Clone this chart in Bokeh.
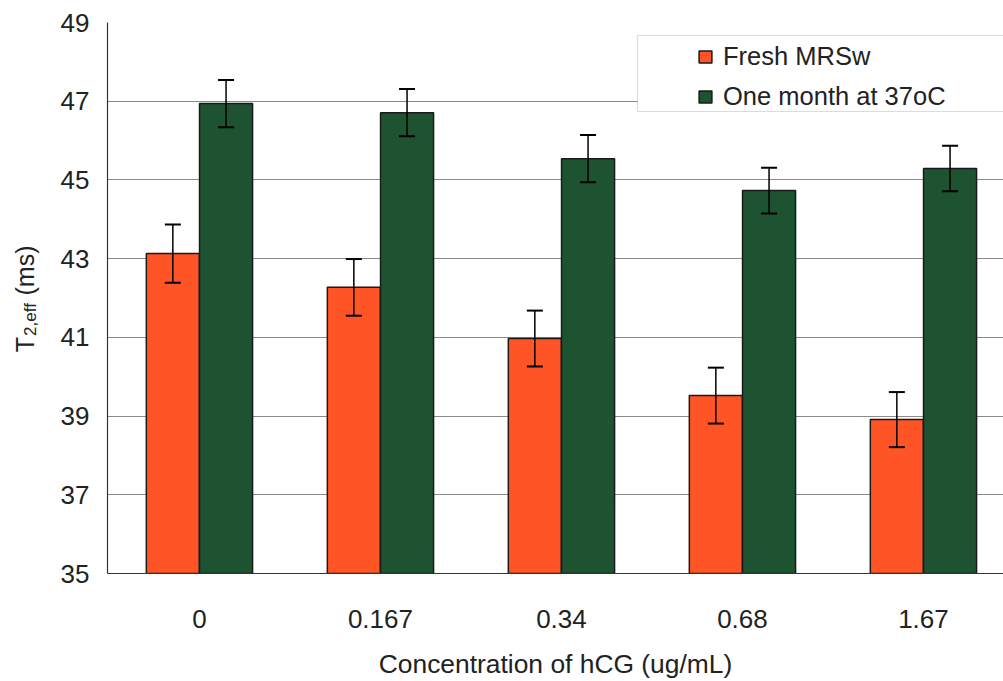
import math
from bokeh.plotting import figure
from bokeh.layouts import row
from bokeh.core.properties import value
from bokeh.models import (ColumnDataSource, Range1d, FixedTicker, Whisker, TeeHead,
                          BoxAnnotation, Legend, LegendItem)
from bokeh.embed import file_html
from bokeh.resources import INLINE

# hCG concentrations (ug/mL) and effective T2 values (ms)
categories = ["0", "0.167", "0.34", "0.68", "1.67"]
fresh = [43.13, 42.27, 40.97, 39.52, 38.91]
fresh_err = [0.74, 0.72, 0.71, 0.71, 0.70]
aged = [46.94, 46.71, 45.54, 44.73, 45.29]
aged_err = [0.60, 0.60, 0.60, 0.58, 0.58]
series_names = ["Fresh MRSw", "One month at 37oC"]
y_ticks = [35, 37, 39, 41, 43, 45, 47, 49]

FONT = "Liberation Sans"
INK = "#222222"
ORANGE = "#FF5426"
GREEN = "#1E5331"

W, H = 1003, 681
TITLE_W = 45                      # strip holding the rotated y-axis title
LEFT, TOP, BOTTOM = 107, 22, 108  # frame offsets on the full canvas
frame_w = W - LEFT
cat_px = 181.0
x_end = frame_w / cat_px
y0, y1 = 35, 49
frame_h = H - TOP - BOTTOM

p = figure(width=W - TITLE_W, height=H, output_backend="svg", toolbar_location=None,
           x_range=Range1d(0, x_end), y_range=Range1d(y0, y1),
           min_border_left=LEFT - TITLE_W, min_border_top=TOP,
           min_border_bottom=BOTTOM, min_border_right=0)
p.title.visible = False
p.outline_line_color = None
p.background_fill_color = "white"
p.border_fill_color = "white"

centers = [i + 0.508 for i in range(len(categories))]
off, bw = 0.147, 0.293

src_f = ColumnDataSource(dict(x=[c - off for c in centers], top=fresh,
                              upper=[v + e for v, e in zip(fresh, fresh_err)],
                              lower=[v - e for v, e in zip(fresh, fresh_err)]))
src_a = ColumnDataSource(dict(x=[c + off for c in centers], top=aged,
                              upper=[v + e for v, e in zip(aged, aged_err)],
                              lower=[v - e for v, e in zip(aged, aged_err)]))

r_f = p.vbar(x="x", top="top", bottom=y0, width=bw, source=src_f,
             fill_color=ORANGE, line_color="#1a1a1a", line_width=1.5)
r_a = p.vbar(x="x", top="top", bottom=y0, width=bw, source=src_a,
             fill_color=GREEN, line_color="#1a1a1a", line_width=1.5)

for src in (src_f, src_a):
    wk = Whisker(source=src, base="x", upper="upper", lower="lower",
                 dimension="height", line_color="black", line_width=1.5,
                 level="overlay",
                 upper_head=TeeHead(size=16, line_color="black", line_width=2),
                 lower_head=TeeHead(size=16, line_color="black", line_width=2))
    p.add_layout(wk)

# axes
p.yaxis.ticker = FixedTicker(ticks=y_ticks)
p.xaxis.ticker = FixedTicker(ticks=centers)
p.xaxis.major_label_overrides = {c: lab for c, lab in zip(centers, categories)}
for ax in (p.xaxis, p.yaxis):
    ax.major_tick_in = 0
    ax.major_tick_out = 0
    ax.minor_tick_in = 0
    ax.minor_tick_out = 0
    ax.axis_line_color = "#333333"
    ax.axis_line_width = 1.2
    ax.major_label_text_font = FONT
    ax.major_label_text_font_size = "26px"
    ax.major_label_text_color = INK
p.yaxis.major_label_standoff = 18
p.xaxis.major_label_standoff = 36
p.xaxis.axis_label = "Concentration of hCG (ug/mL)"
p.xaxis.axis_label_text_font = FONT
p.xaxis.axis_label_text_font_size = "26.4px"
p.xaxis.axis_label_text_font_style = "normal"
p.xaxis.axis_label_text_color = INK
p.xaxis.axis_label_standoff = 18

p.xgrid.grid_line_color = None
p.ygrid.grid_line_color = "#8a8a8a"
p.ygrid.grid_line_width = 1.2


def px_to_x(px):
    return (px - LEFT) / cat_px


def py_to_y(py):
    return y1 - (py - TOP) * (y1 - y0) / frame_h


# legend frame, covering the grid line behind it
p.add_layout(BoxAnnotation(left=px_to_x(637), right=px_to_x(1100),
                           bottom=py_to_y(111), top=py_to_y(35),
                           fill_color="white", fill_alpha=1.0,
                           line_color="#8a8a8a", line_width=1.2, level="annotation"))

legend = Legend(items=[LegendItem(label=series_names[0], renderers=[r_f]),
                       LegendItem(label=series_names[1], renderers=[r_a])],
                location=(590, 462), padding=0, margin=0, spacing=11,
                glyph_width=16, glyph_height=15, label_height=26,
                label_standoff=10, label_text_font=FONT,
                label_text_font_size="25.5px", label_text_color=INK,
                background_fill_alpha=0, border_line_color=None)
p.add_layout(legend)

# rotated y-axis title "T_2,eff (ms)" in a narrow strip whose frame lines up
# with the main frame, so it shares the same vertical scale
t = figure(width=TITLE_W, height=H, output_backend="svg", toolbar_location=None,
           x_range=Range1d(0, TITLE_W), y_range=Range1d(y0, y1),
           x_axis_type=None, y_axis_type=None, min_border=0)
t.title.visible = False
t.outline_line_color = None
t.grid.visible = False
t.background_fill_color = "white"
t.border_fill_color = "white"
title_parts = dict(text=["T", "2,eff", "(ms)"], x=[24, 30, 24],
                   y=[py_to_y(344), py_to_y(319), py_to_y(270)],
                   size=["25px", "17px", "25px"])
t.text(x="x", y="y", text="text", source=ColumnDataSource(title_parts),
       angle=math.pi / 2, text_font=value(FONT), text_font_size="size",
       text_color=INK, text_align="center", text_baseline="middle")

layout = row(t, p, spacing=0)
open("out.html", "w").write(file_html(layout, INLINE))
